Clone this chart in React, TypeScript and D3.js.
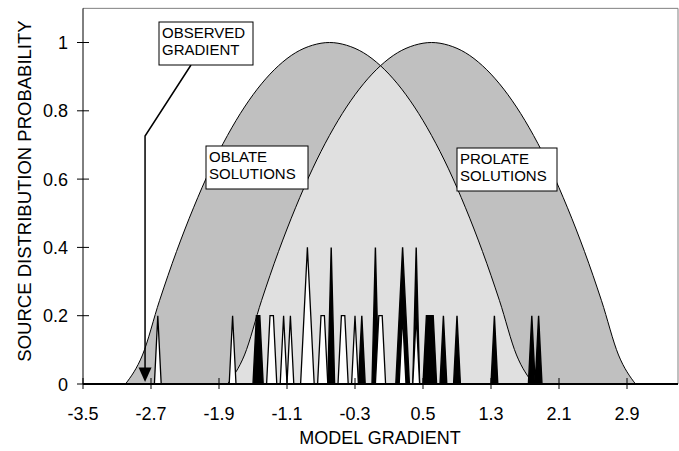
import React, { useEffect, useRef } from "react";
import * as d3 from "d3";

// axis ticks
const xTicks = [-3.5, -2.7, -1.9, -1.1, -0.3, 0.5, 1.3, 2.1, 2.9];
const yTicks = [0, 0.2, 0.4, 0.6, 0.8, 1];

const oblateX = [-3.0, -2.8, -2.6, -2.4, -2.2, -2.0, -1.8, -1.6, -1.4, -1.2, -1.0, -0.8, -0.6,
  -0.4, -0.2, 0.0, 0.2, 0.4, 0.6, 0.8, 1.0, 1.2, 1.4, 1.6, 1.8];
const oblateY = [0, 0.085, 0.244, 0.388, 0.516, 0.63, 0.728, 0.811, 0.879, 0.932, 0.97, 0.992, 1,
  0.992, 0.97, 0.932, 0.879, 0.811, 0.728, 0.63, 0.516, 0.388, 0.244, 0.085, 0];
const prolateX = [-1.8, -1.6, -1.4, -1.2, -1.0, -0.8, -0.6, -0.4, -0.2, 0.0, 0.2, 0.4, 0.6,
  0.8, 1.0, 1.2, 1.4, 1.6, 1.8, 2.0, 2.2, 2.4, 2.6, 2.8, 3.0];
const prolateY = [0, 0.085, 0.244, 0.388, 0.516, 0.63, 0.728, 0.811, 0.879, 0.932, 0.97, 0.992, 1,
  0.992, 0.97, 0.932, 0.879, 0.811, 0.728, 0.63, 0.516, 0.388, 0.244, 0.085, 0];

// individual model solutions, 0.04 wide bins
const blackX = [-1.46, -1.42, -0.58, -0.22, -0.06, 0.22, 0.26, 0.30, 0.42, 0.54, 0.58, 0.62, 0.74, 0.90, 1.34, 1.78, 1.86];
const blackY = [0.2, 0.2, 0.4, 0.2, 0.4, 0.2, 0.4, 0.2, 0.4, 0.2, 0.2, 0.2, 0.2, 0.2, 0.2, 0.2, 0.2];
const whiteX = [-2.62, -1.74, -1.30, -1.26, -1.14, -1.06, -0.90, -0.86, -0.82, -0.70, -0.66, -0.46, -0.42, -0.30, -0.02, 0.02, 0.26, 0.42];
const whiteY = [0.2, 0.2, 0.2, 0.2, 0.2, 0.2, 0.2, 0.4, 0.2, 0.2, 0.2, 0.2, 0.2, 0.2, 0.2, 0.2, 0.2, 0.2];

const observedGradient = -2.77;
const BIN = 0.04;

export default function App() {
  const ref = useRef<SVGSVGElement>(null);

  useEffect(() => {
    const svg = d3.select(ref.current);
    svg.selectAll("*").remove();
    const font = "'Liberation Sans', Arial, sans-serif";

    const x = d3.scaleLinear().domain([-3.5, 3.5]).range([83, 678]);
    const y = d3.scaleLinear().domain([0, 1.1]).range([384, 8.35]);

    const pts = (xs: number[], ys: number[]) => xs.map((v, i) => [v, ys[i]] as [number, number]);
    const env = d3.area<[number, number]>()
      .x(d => x(d[0])).y0(y(0)).y1(d => y(d[1]))
      .curve(d3.curveMonotoneX);
    const envLine = d3.line<[number, number]>()
      .x(d => x(d[0])).y(d => y(d[1]))
      .curve(d3.curveMonotoneX);

    const oblate = pts(oblateX, oblateY);
    const prolate = pts(prolateX, prolateY);

    svg.append("defs").append("clipPath").attr("id", "oblateClip")
      .append("path").attr("d", env(oblate));

    svg.append("path").attr("d", env(oblate)).attr("fill", "#c0c0c0");
    svg.append("path").attr("d", env(prolate)).attr("fill", "#c0c0c0");
    svg.append("path").attr("d", env(prolate)).attr("fill", "#e0e0e0")
      .attr("clip-path", "url(#oblateClip)");
    svg.append("path").attr("d", envLine(oblate)).attr("fill", "none").attr("stroke", "#000");
    svg.append("path").attr("d", envLine(prolate)).attr("fill", "none").attr("stroke", "#000");

    // spikes on the 0.04 grid
    const binned = (xs: number[], ys: number[]) =>
      d3.range(0, 176).map(k => {
        const v = -3.5 + k * BIN;
        const i = xs.findIndex(p => Math.abs(p - v) < BIN / 2);
        return [v, i < 0 ? 0 : ys[i]] as [number, number];
      });
    const spike = d3.area<[number, number]>()
      .x(d => x(d[0])).y0(y(0)).y1(d => y(d[1]));

    svg.append("path").attr("d", spike(binned(blackX, blackY)))
      .attr("fill", "#000").attr("stroke", "#000").attr("stroke-width", 1.4);
    svg.append("path").attr("d", spike(binned(whiteX, whiteY)))
      .attr("fill", "#fff").attr("stroke", "#000").attr("stroke-width", 1.3);

    // frame
    svg.append("path")
      .attr("d", `M${x(-3.5)},${y(1.1)}H${x(3.5)}V${y(0)}`)
      .attr("fill", "none").attr("stroke", "#808080");
    svg.append("line").attr("x1", x(-3.5)).attr("x2", x(-3.5)).attr("y1", y(1.1)).attr("y2", y(0))
      .attr("stroke", "#000");
    svg.append("line").attr("x1", x(-3.5)).attr("x2", x(3.5)).attr("y1", y(0)).attr("y2", y(0))
      .attr("stroke", "#000").attr("stroke-width", 2);

    // ticks
    svg.selectAll(".xt").data(xTicks).enter().append("line")
      .attr("x1", d => x(d)).attr("x2", d => x(d))
      .attr("y1", y(0) - 6).attr("y2", y(0) + 5).attr("stroke", "#000");
    svg.selectAll(".xl").data(xTicks).enter().append("text")
      .attr("x", d => x(d)).attr("y", 420)
      .attr("text-anchor", "middle").style("font", `18px ${font}`)
      .text(d => d3.format(".1f")(d).replace("−", "-"));
    svg.selectAll(".yt").data(yTicks).enter().append("line")
      .attr("x1", x(-3.5) - 6).attr("x2", x(-3.5) + 6)
      .attr("y1", d => y(d)).attr("y2", d => y(d)).attr("stroke", "#000");
    svg.selectAll(".yl").data(yTicks).enter().append("text")
      .attr("x", 68).attr("y", d => y(d) + 6.5)
      .attr("text-anchor", "end").style("font", `18px ${font}`)
      .text(d => String(d));

    svg.append("text").attr("x", 380).attr("y", 444)
      .attr("text-anchor", "middle").style("font", `18px ${font}`)
      .text("MODEL GRADIENT");
    svg.append("text").attr("transform", "translate(31,191) rotate(-90)")
      .attr("text-anchor", "middle").style("font", `18.5px ${font}`)
      .text("SOURCE DISTRIBUTION PROBABILITY");

    // annotation boxes
    const boxes = [
      { x: 159, y: 22, w: 94, h: 43, lines: ["OBSERVED", "GRADIENT"] },
      { x: 206, y: 146, w: 102, h: 43, lines: ["OBLATE", "SOLUTIONS"] },
      { x: 457, y: 148, w: 100, h: 43, lines: ["PROLATE", "SOLUTIONS"] },
    ];
    const ox = x(observedGradient);
    svg.append("path")
      .attr("d", `M191,65L${ox},136V368`)
      .attr("fill", "none").attr("stroke", "#000").attr("stroke-width", 1.5);
    svg.append("path")
      .attr("d", `M${ox - 6.5},367.5L${ox + 6.5},367.5L${ox},${y(0) - 2}Z`)
      .attr("fill", "#000");

    boxes.forEach(b => {
      svg.append("rect").attr("x", b.x).attr("y", b.y).attr("width", b.w).attr("height", b.h)
        .attr("fill", "#fff").attr("stroke", "#000");
      b.lines.forEach((t, i) => {
        svg.append("text").attr("x", b.x + 3).attr("y", b.y + 16 + i * 17)
          .style("font", `15px ${font}`).text(t);
      });
    });
  }, []);

  return (
    <div style={{ position: "absolute", left: 0, top: 0 }}>
      <svg ref={ref} width={679} height={451} style={{ display: "block", background: "#fff" }} />
    </div>
  );
}
